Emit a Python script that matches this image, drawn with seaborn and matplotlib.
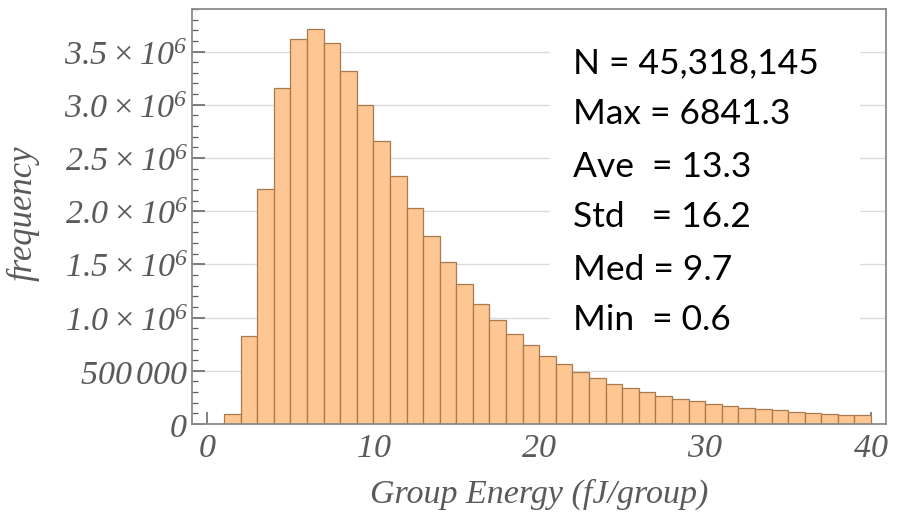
import numpy as np
import pandas as pd
import matplotlib
matplotlib.use("Agg")
import matplotlib.pyplot as plt
import seaborn as sns
from matplotlib.ticker import FixedLocator, MultipleLocator
from matplotlib.patches import Rectangle

# ---- data ----
bin_left = list(range(0, 40))
counts_millions = [0.0, 0.09, 0.83, 2.21, 3.155, 3.616, 3.71, 3.584, 3.318, 2.998,
                   2.657, 2.33, 2.032, 1.769, 1.524, 1.314, 1.126, 0.982, 0.85, 0.738,
                   0.637, 0.562, 0.49, 0.43, 0.375, 0.335, 0.30, 0.263, 0.238, 0.216,
                   0.188, 0.165, 0.148, 0.141, 0.129, 0.116, 0.106, 0.095, 0.086, 0.085]
x_ticks = [0, 10, 20, 30, 40]
y_ticks = [0, 500000, 1000000, 1500000, 2000000, 2500000, 3000000, 3500000]
y_tick_labels = ["$0$", "$500\\,000$", "$1.0\\times10^{6}$", "$1.5\\times10^{6}$",
                 "$2.0\\times10^{6}$", "$2.5\\times10^{6}$", "$3.0\\times10^{6}$",
                 "$3.5\\times10^{6}$"]
stats_lines = ["N = 45,318,145", "Max = 6841.3", "Ave  = 13.3",
               "Std   = 16.2", "Med = 9.7", "Min  = 0.6"]
x_label = "Group Energy (fJ/group)"
y_label = "frequency"

df = pd.DataFrame({"energy": [b + 0.5 for b in bin_left],
                   "count": [c * 1e6 for c in counts_millions]})

sns.set_style("white")
plt.rcParams["mathtext.fontset"] = "custom"
plt.rcParams["mathtext.rm"] = "Liberation Serif:italic"
plt.rcParams["mathtext.it"] = "Liberation Serif:italic"
plt.rcParams["mathtext.bf"] = "Liberation Serif:italic"
plt.rcParams["xtick.bottom"] = True
plt.rcParams["ytick.left"] = True
plt.rcParams["xtick.minor.visible"] = True
plt.rcParams["ytick.minor.visible"] = True

W, H = 897, 512
fig = plt.figure(figsize=(W / 100, H / 100), dpi=100)
L, R, T, B = 192, 886, 9, 424
ax = fig.add_axes([L / W, 1 - B / H, (R - L) / W, (B - T) / H])

sns.histplot(data=df, x="energy", weights="count", bins=40, binrange=(0, 40),
             color="#FDC692", alpha=1.0, edgecolor="#A87A50", linewidth=0.9,
             ax=ax, zorder=2)

ax.set_xlim(-0.93, 40.9)
ax.set_ylim(0, 3.9e6)

ax.yaxis.set_major_locator(FixedLocator(y_ticks))
ax.set_yticklabels(y_tick_labels)
ax.yaxis.set_minor_locator(MultipleLocator(100000))
ax.xaxis.set_major_locator(FixedLocator(x_ticks))
ax.set_xticklabels([f"${v}$" for v in x_ticks])
ax.xaxis.set_minor_locator(MultipleLocator(2))
ax.yaxis.set_ticks_position("left")
ax.xaxis.set_ticks_position("bottom")

tick_color = "#5a5a5a"
ax.tick_params(axis="both", which="major", direction="in", length=9, width=1.1,
               color="#5e5e5e", labelsize=24.5, labelcolor=tick_color, pad=3)
ax.tick_params(axis="both", which="minor", direction="in", length=4, width=0.9,
               color="#5e5e5e")
ax.tick_params(axis="x", which="major", pad=5)

ax.grid(axis="y", which="major", color="#dcdcdc", linewidth=1.0)
ax.set_axisbelow(True)
for s in ax.spines.values():
    s.set_visible(True)
    s.set_color("#8a8a8a")
    s.set_linewidth(1.3)

ax.set_xlabel(x_label, fontsize=24.5, color=tick_color,
              family="Liberation Serif", style="italic")
ax.set_ylabel(y_label, fontsize=25, color=tick_color,
              family="Liberation Serif", style="italic")
ax.xaxis.set_label_coords(0.5, -(479 - B) / (B - T))
ax.yaxis.set_label_coords(-(L - 40) / (R - L), (B - 213) / (B - T))

# white box behind stats text
fig.patches.append(Rectangle((550 / W, 1 - 345 / H), (860 - 550) / W, (345 - 25) / H,
                             transform=fig.transFigure, facecolor="white",
                             edgecolor="none", zorder=5))
baselines = [73, 124, 177, 227, 280, 330]
for line, yb in zip(stats_lines, baselines):
    fig.text(573 / W, 1 - yb / H, line, fontsize=25.5, family="Lato",
             color="black", va="baseline", ha="left", zorder=6)

fig.savefig("out.png", dpi=100)
